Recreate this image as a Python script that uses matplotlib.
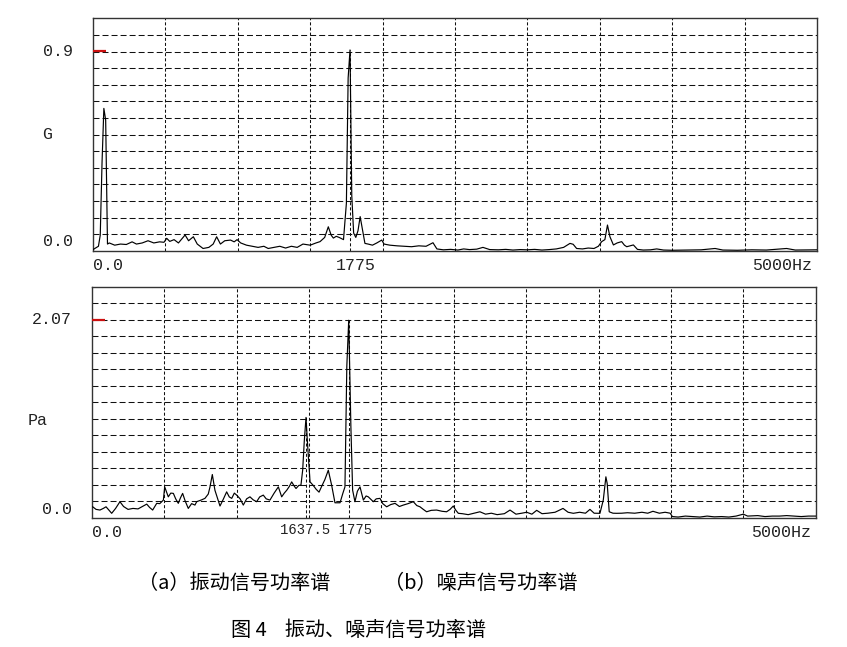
import numpy as np
import matplotlib
matplotlib.use("Agg")
from matplotlib import pyplot as plt

plt.rcParams['lines.scale_dashes'] = False

# vibration spectrum (G)
freq_a = [0, 12.5, 37.5, 50, 62.5, 75, 87.5, 100, 112.5, 150, 190, 230, 270, 300, 340, 380,
          420, 460, 490, 509, 530, 560, 590, 636, 660, 693, 720, 760, 800, 830, 854, 880,
          910, 950, 975, 995, 1020, 1060, 1100, 1140, 1180, 1210, 1250, 1290, 1330, 1370,
          1410, 1450, 1500, 1540, 1568, 1600, 1625, 1645, 1660, 1680, 1700, 1730, 1750,
          1762, 1775, 1787, 1800, 1815, 1830, 1845, 1860, 1878, 1900, 1930, 1960, 1994,
          2010, 2050, 2100, 2150, 2200, 2250, 2300, 2348, 2375, 2420, 2470, 2520, 2560,
          2600, 2650, 2693, 2740, 2800, 2850, 2900, 2950, 3000, 3050, 3100, 3150, 3200,
          3250, 3294, 3316, 3340, 3380, 3420, 3460, 3490, 3513, 3535, 3553, 3570, 3594,
          3620, 3651, 3670, 3686, 3710, 3732, 3760, 3800, 3850, 3893, 3940, 4000, 4100,
          4200, 4296, 4350, 4450, 4550, 4650, 4790, 4850, 4950, 5000]
amp_a = [0.005, 0.01, 0.02, 0.07, 0.40, 0.643, 0.59, 0.03, 0.035, 0.025, 0.03, 0.028, 0.04,
         0.03, 0.035, 0.045, 0.035, 0.04, 0.038, 0.056, 0.042, 0.05, 0.035, 0.071, 0.045,
         0.063, 0.03, 0.01, 0.015, 0.03, 0.063, 0.03, 0.045, 0.048, 0.04, 0.05, 0.035,
         0.025, 0.02, 0.015, 0.02, 0.01, 0.015, 0.02, 0.012, 0.02, 0.015, 0.03, 0.025,
         0.035, 0.041, 0.06, 0.108, 0.07, 0.057, 0.065, 0.06, 0.05, 0.215, 0.78, 0.907,
         0.25, 0.08, 0.06, 0.09, 0.154, 0.1, 0.033, 0.03, 0.025, 0.035, 0.048, 0.03, 0.025,
         0.022, 0.02, 0.018, 0.022, 0.02, 0.036, 0.008, 0.004, 0.006, 0.003, 0.008, 0.005,
         0.007, 0.015, 0.005, 0.004, 0.006, 0.003, 0.005, 0.004, 0.006, 0.003, 0.005,
         0.008, 0.015, 0.033, 0.029, 0.01, 0.008, 0.012, 0.01, 0.02, 0.041, 0.05, 0.116,
         0.063, 0.026, 0.035, 0.041, 0.025, 0.018, 0.022, 0.026, 0.006, 0.003, 0.004,
         0.008, 0.003, 0.002, 0.003, 0.004, 0.01, 0.003, 0.002, 0.004, 0.003, 0.01, 0.003,
         0.004, 0.004]

# noise spectrum (Pa)
freq_b = [7, 30, 57, 80, 99, 120, 138, 165, 195, 220, 251, 285, 320, 350, 380, 400, 421,
          449, 470, 495, 504, 529, 546, 564, 580, 598, 613, 628, 645, 667, 690, 713, 725,
          760, 782, 805, 817, 833, 851, 870, 886, 910, 932, 950, 967, 985, 1001, 1025, 1047,
          1070, 1093, 1115, 1139, 1160, 1185, 1205, 1231, 1260, 1289, 1312, 1330, 1347,
          1365, 1381, 1400, 1411, 1430, 1445, 1457, 1468, 1480, 1492, 1508, 1530, 1550,
          1570, 1588, 1610, 1634, 1657, 1680, 1715, 1735, 1749, 1762, 1775, 1790, 1802,
          1818, 1835, 1853, 1876, 1895, 1910, 1945, 1965, 1991, 2010, 2037, 2065, 2095,
          2125, 2152, 2185, 2221, 2245, 2267, 2290, 2313, 2345, 2382, 2420, 2451, 2475,
          2497, 2515, 2532, 2560, 2600, 2640, 2681, 2720, 2760, 2800, 2850, 2889, 2930,
          2970, 3004, 3040, 3073, 3110, 3150, 3200, 3255, 3290, 3326, 3370, 3410, 3441,
          3470, 3510, 3533, 3551, 3560, 3574, 3600, 3625, 3660, 3700, 3750, 3800, 3840,
          3876, 3920, 3960, 3995, 4010, 4050, 4100, 4150, 4200, 4250, 4300, 4350, 4400,
          4450, 4500, 4530, 4600, 4650, 4700, 4750, 4800, 4850, 4900, 4950, 5000]
amp_b = [0.117, 0.09, 0.083, 0.1, 0.117, 0.08, 0.049, 0.1, 0.17, 0.12, 0.09, 0.1, 0.095,
         0.12, 0.145, 0.11, 0.083, 0.153, 0.15, 0.187, 0.325, 0.221, 0.26, 0.257, 0.2,
         0.153, 0.21, 0.257, 0.18, 0.1, 0.15, 0.135, 0.17, 0.19, 0.205, 0.25, 0.325, 0.454,
         0.29, 0.2, 0.125, 0.2, 0.273, 0.22, 0.205, 0.26, 0.239, 0.2, 0.135, 0.2, 0.221,
         0.19, 0.17, 0.22, 0.239, 0.2, 0.187, 0.26, 0.325, 0.221, 0.26, 0.29, 0.33, 0.377,
         0.33, 0.308, 0.34, 0.343, 0.5, 0.8, 1.05, 0.74, 0.377, 0.34, 0.3, 0.27, 0.33, 0.4,
         0.499, 0.343, 0.159, 0.159, 0.26, 0.325, 1.59, 2.065, 0.95, 0.29, 0.17, 0.28,
         0.325, 0.187, 0.23, 0.221, 0.17, 0.2, 0.205, 0.15, 0.117, 0.14, 0.153, 0.12,
         0.135, 0.15, 0.17, 0.13, 0.117, 0.09, 0.065, 0.08, 0.083, 0.07, 0.065, 0.09,
         0.125, 0.08, 0.049, 0.045, 0.035, 0.05, 0.065, 0.04, 0.05, 0.035, 0.045, 0.083,
         0.04, 0.05, 0.06, 0.04, 0.08, 0.045, 0.05, 0.06, 0.1, 0.06, 0.049, 0.06, 0.05,
         0.09, 0.05, 0.049, 0.187, 0.43, 0.36, 0.065, 0.05, 0.049, 0.05, 0.055, 0.05, 0.06,
         0.05, 0.07, 0.05, 0.06, 0.05, 0.015, 0.01, 0.02, 0.015, 0.01, 0.02, 0.012, 0.015,
         0.01, 0.02, 0.04, 0.02, 0.025, 0.015, 0.02, 0.02, 0.025, 0.02, 0.015, 0.02, 0.02]

fmax = 5000
ymark = [0.9, 2.07]          # red marker / full-scale value
ymark_lbl = ["0.9", "2.07"]
units = ["G", "Pa"]
cursor_a = [1775]
cursor_b = [1480, 1775]
peak_lbl = ["1775", "1637.5 1775"]
captions = ["（a）振动信号功率谱", "（b）噪声信号功率谱"]
title = "图 4    振动、噪声信号功率谱"

W, H = 847, 647
fig = plt.figure(figsize=(W / 100, H / 100), dpi=100)
mono = "Liberation Mono"
px = 0.72  # points per pixel

boxes = [(93, 18.3, 817, 250.7), (91.7, 286.7, 815.7, 518)]
series = [(freq_a, amp_a, cursor_a), (freq_b, amp_b, cursor_b)]

for i in range(2):
    x0, y0, x1, y1 = boxes[i]
    ax = fig.add_axes([x0 / W, 1 - y1 / H, (x1 - x0) / W, (y1 - y0) / H])
    f, a, cur = series[i]
    top = ymark[i] * 14 / 12
    step = ymark[i] / 12
    ax.set_xlim(0, fmax)
    ax.set_ylim(0, top)
    ax.set_xticks(np.arange(500, fmax, 500))
    ax.set_yticks(np.arange(1, 14) * step)
    ax.tick_params(length=0, labelbottom=False, labelleft=False)
    ax.grid(axis='x', color='#111111', lw=0.75, ls=(0, (2.2, 1.5)))
    ax.grid(axis='y', color='#111111', lw=0.75, ls=(0, (4.3, 2.2)))
    for s in ax.spines.values():
        s.set_color('#333333')
        s.set_linewidth(1.0)

    for c in cur:
        ax.plot([c, c], [0, np.interp(c, f, a)], color='#111111', lw=0.75,
                ls=(0, (2.2, 1.5)), zorder=2)
    ax.plot(f, a, color='black', lw=0.85, zorder=3)
    ax.plot([0, 90], [ymark[i], ymark[i]], color='#cc1010', lw=1.6, zorder=4,
            solid_capstyle='butt')

    # axis texts
    tk = dict(fontsize=12, family=mono, color='#222222')
    ax.annotate(ymark_lbl[i], xy=(0, ymark[i]), xycoords=('axes fraction', 'data'),
                xytext=(-20 * px, 0), textcoords='offset points', ha='right', va='center', **tk)
    ax.annotate("0.0", xy=(0, 0), xycoords=('axes fraction', 'data'),
                xytext=(-20 * px, 9 * px), textcoords='offset points', ha='right', va='center', **tk)
    ax.annotate(units[i], xy=(0, 0.5 if i == 0 else 0.42), xycoords='axes fraction',
                xytext=((-51 if i == 0 else -64) * px, 0), textcoords='offset points',
                ha='left', va='center', **tk)
    ax.annotate("0.0", xy=(0, 0), xycoords='data', xytext=(0, -14.5 * px),
                textcoords='offset points', ha='left', va='center', **tk)
    ax.annotate("5000Hz", xy=(fmax, 0), xycoords='data', xytext=(-4.5 * px, -14.5 * px),
                textcoords='offset points', ha='right', va='center', **tk)
    if i == 0:
        ax.annotate(peak_lbl[i], xy=(1775, 0), xycoords='data', xytext=(6 * px, -14.5 * px),
                    textcoords='offset points', ha='center', va='center', **tk)
    else:
        ax.annotate(peak_lbl[i], xy=(1775, 0), xycoords='data', xytext=(23 * px, -12.5 * px),
                    textcoords='offset points', ha='right', va='center',
                    fontsize=10, family=mono, color='#222222')

cjk = ['Noto Sans CJK SC', 'DejaVu Sans']
fig.text(138 / W, 1 - 583 / H, captions[0], fontsize=14.5, family=cjk, va='center', ha='left')
fig.text(384 / W, 1 - 583 / H, captions[1], fontsize=14.5, family=cjk, va='center', ha='left')
fig.text(231 / W, 1 - 630 / H, title, fontsize=14.5, family=cjk, va='center', ha='left')

fig.savefig("out.png", dpi=100)
